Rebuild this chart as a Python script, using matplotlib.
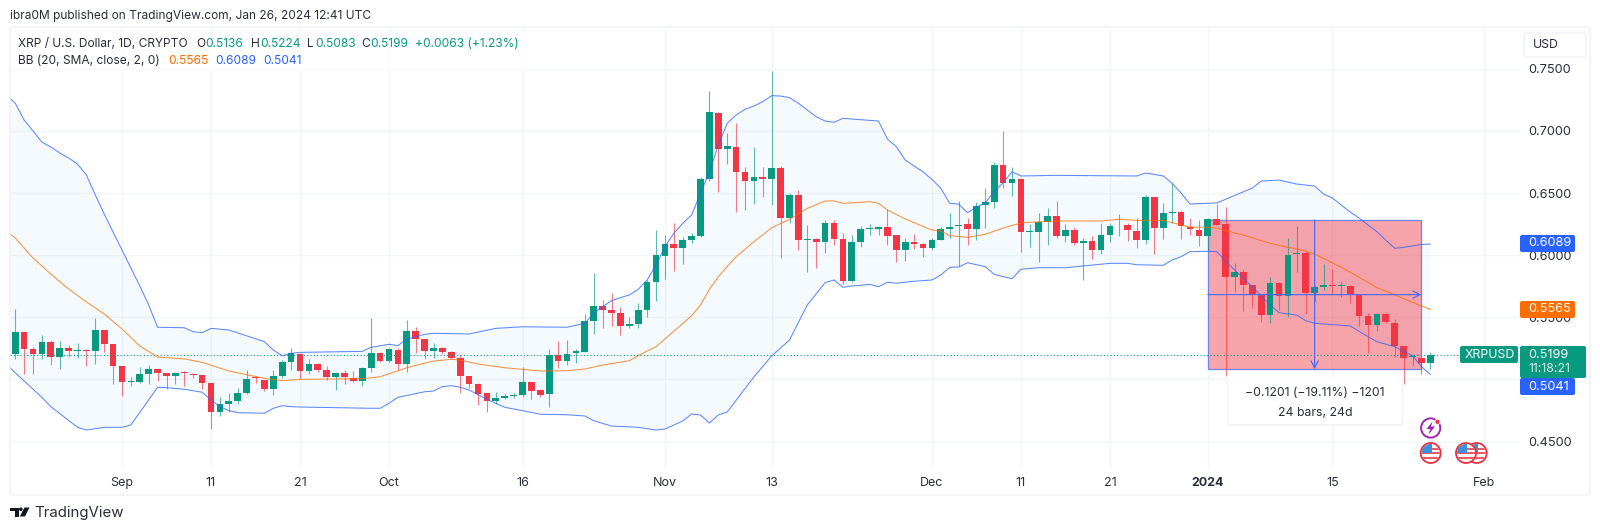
import numpy as np
import pandas as pd
import matplotlib
matplotlib.use("Agg")
import matplotlib.pyplot as plt
from matplotlib.patches import Rectangle, Circle, FancyBboxPatch, Polygon

plt.rcParams['font.family'] = ['Inter', 'DejaVu Sans']

opens = [
 .5203,.5385,.5243,.5203,.5299,.5184,.5254,.5232,.5238,.5227,
 .5396,.5283,.5106,.4983,.4983,.5045,.5085,.5050,.5029,.5053,
 .5045,.5037,.4970,.4742,.4801,.4830,.4892,.5015,.4996,.4927,
 .5026,.5138,.5205,.5069,.5122,.5077,.5021,.5050,.5015,.4991,
 .5096,.5213,.5149,.5238,.5128,.5390,.5326,.5227,.5254,.5222,
 .5173,.5029,.4962,.4887,.4825,.4849,.4868,.4876,.4978,.4913,
 .4881,.5197,.5149,.5211,.5224,.5472,.5587,.5555,.5533,.5426,
 .5447,.5560,.5788,.5997,.6088,.6056,.6123,.6155,.6611,.7147,
 .6857,.6873,.6667,.6597,.6627,.6611,.6704,.6297,.6485,.6120,
 .6128,.6109,.6260,.6126,.5790,.6109,.6211,.6211,.6229,.6160,
 .6042,.6103,.6090,.6061,.6125,.6211,.6232,.6248,.6211,.6401,
 .6428,.6723,.6583,.6615,.6187,.6189,.6270,.6315,.6154,.6203,
 .6095,.6117,.6045,.6165,.6240,.6243,.6195,.6122,.6465,.6221,
 .6339,.6347,.6229,.6205,.6154,.6288,.6248,.5822,.5867,.5758,
 .5680,.5516,.5776,.5674,.6007,.6020,.5699,.5744,.5763,.5755,
 .5752,.5680,.5511,.5439,.5527,.5457,.5270,.5179,.5175,.5136]

highs = [
 .5565,.5393,.5259,.5358,.5318,.5313,.5275,.5297,.5243,.5492,
 .5398,.5286,.5109,.5023,.5101,.5120,.5085,.5053,.5063,.5069,
 .5050,.5037,.4970,.4862,.4889,.4935,.5077,.5031,.4996,.5077,
 .5157,.5251,.5211,.5163,.5130,.5112,.5063,.5077,.5069,.5098,
 .5492,.5219,.5256,.5251,.5479,.5420,.5326,.5291,.5259,.5232,
 .5197,.5029,.4975,.4889,.4897,.4884,.4895,.5104,.4980,.4924,
 .5243,.5310,.5318,.5246,.5527,.5855,.5640,.5694,.5581,.5501,
 .5614,.5801,.6203,.6163,.6257,.6150,.6182,.6632,.7321,.7149,
 .6980,.7066,.6707,.6868,.6707,.7482,.6718,.6503,.6525,.6243,
 .6136,.6284,.6284,.6176,.6163,.6235,.6251,.6235,.6369,.6162,
 .6136,.6170,.6095,.6141,.6224,.6342,.6436,.6296,.6430,.6538,
 .6752,.7000,.6712,.6618,.6251,.6342,.6377,.6436,.6251,.6224,
 .6136,.6154,.6256,.6256,.6331,.6256,.6296,.6484,.6468,.6417,
 .6578,.6363,.6296,.6283,.6296,.6409,.6390,.5940,.5881,.5760,
 .5680,.5822,.5787,.6135,.6235,.6034,.5760,.5929,.5886,.5795,
 .5760,.5682,.5532,.5538,.5546,.5484,.5273,.5197,.5175,.5224]

lows = [
 .5165,.5042,.5042,.5163,.5120,.5082,.5184,.5176,.5106,.5128,
 .5219,.4964,.4870,.4948,.4975,.4967,.4991,.4921,.4964,.4948,
 .5015,.4927,.4600,.4707,.4739,.4801,.4881,.4975,.4908,.4878,
 .5012,.5077,.5002,.5045,.5063,.4996,.4916,.4964,.4978,.4948,
 .5063,.5141,.5138,.5077,.5063,.5211,.5165,.5176,.5205,.5165,
 .4895,.4929,.4793,.4742,.4803,.4841,.4852,.4860,.4846,.4862,
 .4782,.5093,.5117,.5130,.5219,.5364,.5410,.5431,.5356,.5410,
 .5410,.5501,.5635,.5809,.5876,.5925,.6096,.6150,.6594,.6511,
 .6734,.6348,.6364,.6412,.6471,.6402,.5981,.6257,.6042,.5868,
 .5898,.6021,.6083,.5769,.5785,.6063,.6162,.6162,.6082,.5948,
 .5956,.6050,.5988,.6042,.6122,.6136,.5913,.6082,.6122,.6221,
 .6379,.6538,.6479,.6026,.6069,.5948,.6082,.6136,.6109,.6082,
 .5801,.5972,.6010,.6103,.6157,.6117,.6058,.6090,.6010,.6130,
 .6256,.6130,.6162,.6074,.6042,.6243,.5028,.5707,.5554,.5578,
 .5465,.5452,.5559,.5506,.5867,.5527,.5626,.5720,.5680,.5666,
 .5613,.5433,.5216,.5390,.5457,.5184,.4962,.5112,.5041,.5083]

closes = [
 .5385,.5246,.5205,.5299,.5184,.5254,.5232,.5238,.5232,.5396,
 .5283,.5106,.4983,.4991,.5045,.5082,.5053,.5031,.5050,.5050,
 .5037,.4970,.4742,.4801,.4830,.4892,.5004,.5010,.4927,.5026,
 .5138,.5211,.5069,.5122,.5077,.5021,.5050,.5021,.4988,.5096,
 .5213,.5149,.5243,.5128,.5390,.5326,.5230,.5254,.5222,.5176,
 .5029,.4962,.4884,.4825,.4854,.4870,.4876,.4978,.4911,.4876,
 .5200,.5149,.5208,.5232,.5473,.5587,.5555,.5533,.5431,.5447,
 .5560,.5780,.6002,.6088,.6061,.6123,.6152,.6611,.7149,.6857,
 .6876,.6670,.6597,.6627,.6611,.6704,.6297,.6485,.6123,.6128,
 .6109,.6260,.6128,.5790,.6109,.6208,.6219,.6229,.6157,.6042,
 .6103,.6093,.6061,.6125,.6208,.6229,.6245,.6211,.6398,.6425,
 .6725,.6583,.6615,.6189,.6192,.6270,.6315,.6157,.6203,.6095,
 .6114,.6045,.6165,.6237,.6245,.6200,.6122,.6468,.6221,.6339,
 .6347,.6235,.6208,.6154,.6291,.6245,.5822,.5867,.5760,.5685,
 .5516,.5776,.5674,.6001,.6020,.5699,.5744,.5760,.5755,.5760,
 .5688,.5514,.5439,.5527,.5460,.5273,.5176,.5189,.5135,.5199]

upper_days = [-13,-12,-11,-10,-9,-8,-7,-6,-5,-4,-3,-2,-1,0,1,2,3,4,7,8,9,10,12,16,17,18,19,20,27,28,30,31,32,34,35,39,42,45,50,52,53,54,55,56,57,58,59,60,61,62,63,64,65,66,67,68,69,70,71,72,73,74,75,76,77,78,79,80,81,82,85,86,87,88,89,90,91,92,93,94,95,96,97,98,99,100,101,105,114,115,117,118,119,120,121,122,123,125,127,128,130,132,134,135,136,137,138,139,140,141,142,143,144,145,146,147]
upper_vals = [.7288,.7224,.7087,.6999,.6910,.6870,.6822,.6782,.6733,.6645,.6484,.6331,.6186,.6041,.5897,.5752,.5599,.5420,.5416,.5384,.5376,.5411,.5398,.5304,.5237,.5191,.5210,.5218,.5226,.5259,.5283,.5272,.5325,.5363,.5371,.5366,.5411,.5424,.5420,.5452,.5532,.5585,.5634,.5658,.5680,.5725,.5800,.5921,.6068,.6176,.6256,.6323,.6498,.6671,.6886,.7061,.7128,.7173,.7200,.7235,.7283,.7280,.7267,.7222,.7168,.7114,.7079,.7069,.7101,.7095,.7079,.6934,.6873,.6766,.6717,.6671,.6610,.6538,.6417,.6411,.6342,.6385,.6422,.6510,.6583,.6671,.6637,.6642,.6637,.6661,.6637,.6578,.6500,.6411,.6415,.6417,.6420,.6480,.6540,.6596,.6604,.6572,.6556,.6492,.6460,.6403,.6347,.6299,.6243,.6189,.6122,.6055,.6063,.6074,.6087,.6089]

basis_days = [-13,-12,-10,-8,-6,-4,-2,0,2,4,7,9,12,16,18,20,27,29,32,33,35,37,38,40,43,47,50,52,54,57,59,60,64,65,66,67,69,71,73,75,77,79,80,81,83,84,85,86,88,91,92,93,95,97,99,101,102,105,110,112,114,117,118,120,122,123,124,126,129,131,133,134,137,139,141,143,146,147]
basis_vals = [.6194,.6138,.5977,.5848,.5728,.5623,.5527,.5406,.5269,.5180,.5165,.5138,.5068,.5009,.4990,.5001,.5006,.5022,.5094,.5114,.5148,.5162,.5156,.5124,.5094,.5068,.5070,.5084,.5116,.5151,.5229,.5263,.5513,.5599,.5725,.5827,.5988,.6108,.6221,.6288,.6377,.6436,.6436,.6417,.6425,.6430,.6417,.6363,.6291,.6202,.6194,.6157,.6143,.6168,.6218,.6259,.6264,.6275,.6275,.6288,.6280,.6280,.6261,.6225,.6225,.6216,.6197,.6162,.6095,.6063,.6033,.6009,.5902,.5822,.5738,.5680,.5591,.5565]

lower_days = [-13,-12,-9,-8,-5,-4,-2,0,1,4,5,7,9,10,11,12,13,16,17,18,19,20,28,29,30,31,34,35,36,37,38,39,41,43,45,47,50,52,53,55,58,60,61,63,64,65,66,67,68,71,73,75,77,79,80,81,82,83,84,85,86,87,89,91,92,93,94,95,97,98,99,100,101,103,106,111,113,114,117,118,119,120,122,123,124,125,127,129,130,132,133,134,138,140,141,143,145,146,147]
lower_vals = [.5124,.5054,.4856,.4781,.4615,.4593,.4615,.4615,.4634,.4937,.4934,.4921,.4897,.4835,.4781,.4749,.4733,.4728,.4768,.4789,.4781,.4778,.4768,.4768,.4808,.4856,.4901,.4907,.4942,.4950,.4937,.4915,.4840,.4776,.4749,.4720,.4716,.4706,.4668,.4625,.4615,.4593,.4601,.4666,.4722,.4714,.4650,.4714,.4738,.5020,.5189,.5317,.5599,.5778,.5800,.5741,.5752,.5757,.5765,.5746,.5782,.5774,.5790,.5800,.5840,.5902,.5905,.5939,.5907,.5846,.5827,.5811,.5886,.5899,.5899,.5934,.5934,.5923,.5918,.5961,.5988,.6028,.6031,.6028,.5953,.5881,.5746,.5599,.5537,.5518,.5473,.5452,.5430,.5344,.5304,.5263,.5191,.5103,.5041]

price_ticks = [0.45, 0.50, 0.55, 0.60, 0.65, 0.70, 0.75]
# the 0.5000 label sits fully behind the 0.5041 tag in the reference, so it is left blank
price_tick_labels = ['0.4500', '', '0.5500', '0.6000', '0.6500', '0.7000', '0.7500']
time_tick_days = [0, 10, 20, 30, 45, 61, 73, 91, 101, 111, 122, 136, 153]
time_tick_labels = ['Sep', '11', '21', 'Oct', '16', 'Nov', '13', 'Dec', '11', '21', '2024', '15', 'Feb']

last_price = 0.5199
box_top, box_bottom = 0.6283, 0.5082
box_start, box_end = 122, 146

GREEN, RED, BLUE, ORANGE = '#089981', '#f23645', '#2962ff', '#ff6d00'
TXT = '#2a2e39'
GRID = '#f4f5f8'

days = np.arange(len(opens)) - 12
o, h, l, c = map(np.array, (opens, highs, lows, closes))
colors = np.where(c > o, GREEN, RED)

fig = plt.figure(figsize=(16, 5.3), dpi=100, facecolor='white')
ax = fig.add_axes([10/1600, (530-467)/530, 1510/1600, 440/530])
ax.set_xlim((10-122)/8.9, (1520-122)/8.9)
ax.set_ylim(0.75-(467-68.7)/1243, 0.75+(68.7-27)/1243)
for s in ax.spines.values():
    s.set_visible(False)
ax.set_axisbelow(True)
ax.grid(True, color=GRID, lw=1.0)
ax.yaxis.tick_right()
ax.set_yticks(price_ticks)
ax.set_yticklabels(price_tick_labels, fontsize=9.2, color=TXT, ha='left')
ax.tick_params(axis='y', length=0, pad=5.8)
ax.set_xticks(time_tick_days)
ax.set_xticklabels(time_tick_labels, fontsize=9.0, color=TXT)
ax.get_xticklabels()[time_tick_labels.index('2024')].set_fontweight('bold')
ax.tick_params(axis='x', length=0, pad=7.5)

# Bollinger band
ax.fill(np.r_[upper_days, lower_days[::-1]], np.r_[upper_vals, lower_vals[::-1]],
        color='#2196f3', alpha=0.045, lw=0, zorder=1)

# date-range measurement box
ax.add_patch(Rectangle((box_start, box_bottom), box_end-box_start, box_top-box_bottom,
                       facecolor=RED, alpha=0.45, edgecolor='none', zorder=2))
ax.add_patch(Rectangle((box_start, box_bottom), box_end-box_start, box_top-box_bottom,
                       fill=False, edgecolor='#6f84ea', lw=0.9, zorder=2.1))

# candles
ax.vlines(days, l, h, colors=colors, lw=0.8, alpha=0.65, zorder=3)
ax.bar(days, np.maximum(np.abs(c-o), 0.0006), bottom=np.minimum(o, c), width=0.76,
       color=colors, lw=0, zorder=3.1)

# bands on top
ax.plot(upper_days, upper_vals, color=BLUE, lw=0.75, alpha=0.75, zorder=4)
ax.plot(lower_days, lower_vals, color=BLUE, lw=0.75, alpha=0.75, zorder=4)
ax.plot(basis_days, basis_vals, color=ORANGE, lw=0.75, alpha=0.75, zorder=4)

# last price line
ax.axhline(last_price, color=GREEN, lw=0.8, ls=(0, (1, 2)), zorder=3.5)

# measurement arrows
mid = (box_top+box_bottom)/2
centre = (box_start+box_end)/2
arrow = dict(arrowstyle='->', color='#4a6cf0', lw=0.85, shrinkA=0, shrinkB=0, mutation_scale=13)
ax.annotate('', xy=(box_end, mid), xytext=(box_start, mid), arrowprops=arrow, zorder=4.5)
ax.annotate('', xy=(centre, box_bottom), xytext=(centre, box_top), arrowprops=arrow, zorder=4.5)

# overlay in pixel units for page furniture
ov = fig.add_axes([0, 0, 1, 1], facecolor='none')
ov.set_xlim(0, 1600)
ov.set_ylim(530, 0)
ov.axis('off')

def label(x, y, s, color=TXT, size=9.2, ha='left', **kw):
    return ov.text(x, y, s, color=color, fontsize=size, ha=ha, va='center', zorder=20, **kw)

def tag(x0, y0, x1, y1, color):
    ov.add_patch(FancyBboxPatch((x0+1.5, y0+1.5), x1-x0-3, y1-y0-3,
                                boxstyle='round,pad=1.5,rounding_size=2',
                                facecolor=color, edgecolor='none', zorder=15))

ov.add_patch(FancyBboxPatch((10, 27), 1580, 468, boxstyle='round,pad=0,rounding_size=3',
                            fill=False, edgecolor='#f0f2f6', lw=1.0, zorder=5))

label(10, 15.5, 'ibra0M published on TradingView.com, Jan 26, 2024 12:41 UTC', size=8.6)

ov.add_patch(Rectangle((13, 33), 512, 37, facecolor='white', alpha=0.7, edgecolor='none', zorder=6))
label(18.5, 44, 'XRP / U.S. Dollar, 1D, CRYPTO', size=8.6)
for x, s in [(196, 'O'), (251, 'H'), (307, 'L'), (361, 'C')]:
    label(x, 44, s, size=8.6)
for x, s in [(205.5, '0.5136'), (260.5, '0.5224'), (315, '0.5083'), (370, '0.5199'), (415, '+0.0063 (+1.23%)')]:
    label(x, 44, s, color=GREEN, size=8.6)
label(18.5, 61, 'BB (20, SMA, close, 2, 0)', size=8.6)
label(168, 61, '0.5565', color=ORANGE, size=8.6)
label(215, 61, '0.6089', color=BLUE, size=8.6)
label(263, 61, '0.5041', color=BLUE, size=8.6)

# USD button
ov.add_patch(FancyBboxPatch((1524, 33), 62, 24, boxstyle='round,pad=0,rounding_size=3',
                            facecolor='white', edgecolor='#f0f2f6', lw=1.0, zorder=6))
label(1533, 44.5, 'USD', size=8.8)

# price tags
tag(1520, 235, 1575, 252, BLUE)
label(1528, 243.5, '0.6089', color='white')
tag(1520, 301, 1575, 318, ORANGE)
label(1528, 309.5, '0.5565', color='white')
tag(1520, 378, 1575, 395, BLUE)
label(1528, 387, '0.5041', color='white')
tag(1520, 346, 1586, 378, GREEN)
label(1528, 354.5, '0.5199', color='white')
label(1528, 369, '11:18:21', color='#d5eee9', size=8.8)
tag(1460, 346, 1518, 363, GREEN)
label(1465, 354.5, 'XRPUSD', color='white', size=8.9)

# measurement tooltip
ov.add_patch(FancyBboxPatch((1227, 379), 176, 47, boxstyle='round,pad=0,rounding_size=3',
                            facecolor='#e9ebef', edgecolor='none', alpha=0.55, zorder=10))
ov.add_patch(FancyBboxPatch((1228, 379), 174, 45, boxstyle='round,pad=0,rounding_size=3',
                            facecolor='white', edgecolor='none', zorder=11))
label(1315, 392.5, '\u22120.1201 (\u221219.11%) \u22121201', size=8.8, ha='center')
label(1315, 412.5, '24 bars, 24d', size=8.8, ha='center')

# event markers
def flag(cx, cy, z):
    ring = Circle((cx, cy), 10, facecolor='white', edgecolor='#e8323f', lw=1.3, zorder=z)
    ov.add_patch(ring)
    for yy in [-5.5, -1, 3.5]:
        r = Rectangle((cx-9, cy+yy), 18, 2.4, facecolor='#ee5a63', edgecolor='none', zorder=z+.1)
        ov.add_patch(r)
        r.set_clip_path(Circle((cx, cy), 9, transform=ov.transData))
    r = Rectangle((cx-9, cy-9), 10, 9, facecolor='#3d8fe0', edgecolor='none', zorder=z+.2)
    ov.add_patch(r)
    r.set_clip_path(Circle((cx, cy), 9, transform=ov.transData))

flag(1476.7, 453, 13)
flag(1466, 453, 14)
flag(1430.7, 453, 13)
ov.add_patch(Circle((1430.7, 428), 9.6, facecolor='white', edgecolor='#9c27b0', lw=1.4, zorder=13))
ov.add_patch(Polygon([(1432.5, 421.5), (1426.5, 429), (1430.2, 429), (1428.5, 434.5), (1435, 426.5), (1431, 426.5)],
                     facecolor='#9c27b0', edgecolor='none', zorder=14))
ov.add_patch(Circle((1437.5, 421.8), 2.6, facecolor='#f23645', edgecolor='white', lw=0.6, zorder=14))

# TradingView logo
ov.add_patch(Polygon([(10, 507.5), (19, 507.5), (19, 516.5), (14.5, 516.5), (14.5, 511), (10, 511)],
                     facecolor='#131722', edgecolor='none', zorder=14))
ov.add_patch(Circle((20.8, 509.2), 1.8, facecolor='#131722', edgecolor='none', zorder=14))
ov.add_patch(Polygon([(24.5, 507.5), (29.5, 507.5), (25, 516.5), (19.8, 516.5)],
                     facecolor='#131722', edgecolor='none', zorder=14))
label(34, 512.5, 'TradingView', color='#2a2e39', size=10.8)

fig.savefig('out.png', dpi=100, facecolor='white')
